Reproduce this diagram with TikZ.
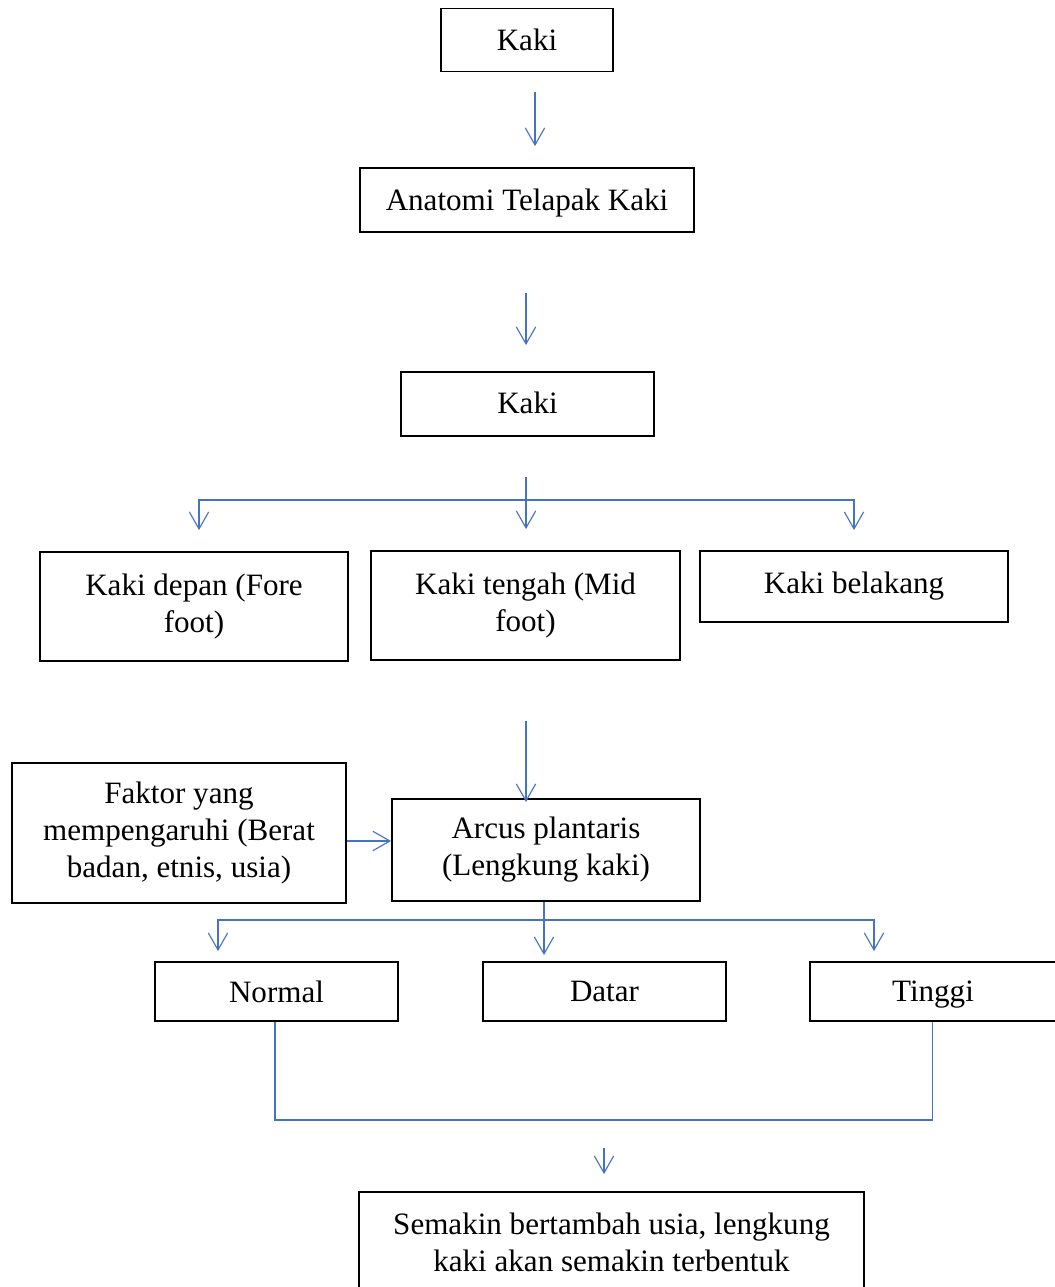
\documentclass[tikz,border=0pt]{standalone}
\usepackage{fontspec}
\setmainfont{Liberation Serif}
\usetikzlibrary{arrows.meta}
\newdimen\pxu
\pxu=0.75pt
\definecolor{linkblue}{HTML}{4472C4}
\begin{document}
\begin{tikzpicture}[x=0.75pt,y=-0.75pt,
  box/.style={draw=black,line width=1.4pt,rectangle,inner sep=0pt,align=center,
    font=\fontsize{23.3}{27.8}\selectfont},
  conn/.style={draw=linkblue,line width=0.85pt},
  arr/.style={conn,-{Straight Barb[length=12.75pt,width=14.5pt,line width=0.85pt]}}]
\useasboundingbox (0,0) rectangle (1054,1287);
\fill[white] (0,0) rectangle (1054,1287);

\node[box,minimum width=172\pxu,minimum height=63\pxu] (kaki1) at (527,40) {Kaki};
\node[box,minimum width=334\pxu,minimum height=64\pxu,text depth=0pt] (anatomi) at (527,200) {Anatomi Telapak Kaki};
\node[box,minimum width=253\pxu,minimum height=64\pxu] (kaki2) at (527.5,404) {\raisebox{2\pxu}{Kaki}};
\node[box,minimum width=308\pxu,minimum height=109\pxu] (depan) at (194,606.5) {\raisebox{2.5\pxu}{\begin{tabular}{@{}c@{}}Kaki depan (Fore\\foot)\end{tabular}}};
\node[box,minimum width=309\pxu,minimum height=109\pxu] (tengah) at (525.5,605.5) {\raisebox{2\pxu}{\begin{tabular}{@{}c@{}}Kaki tengah (Mid\\foot)\end{tabular}}};
\node[box,minimum width=308\pxu,minimum height=71\pxu] (belakang) at (854,586.5) {Kaki belakang};
\node[box,minimum width=334\pxu,minimum height=140\pxu] (faktor) at (179,833) {Faktor yang\\mempengaruhi (Berat\\badan, etnis, usia)};
\node[box,minimum width=308\pxu,minimum height=102\pxu] (arcus) at (546,850) {Arcus plantaris\\(Lengkung kaki)};
\node[box,minimum width=243\pxu,minimum height=59\pxu] (normal) at (276.5,991.5) {Normal};
\node[box,minimum width=243\pxu,minimum height=59\pxu] (datar) at (604.5,991.5) {Datar};
\node[box,minimum width=246\pxu,minimum height=59\pxu,text depth=0pt] (tinggi) at (933,991.5) {Tinggi};
\node[box,minimum width=505\pxu,minimum height=100\pxu] (semakin) at (611.5,1242) {Semakin bertambah usia, lengkung\\kaki akan semakin terbentuk};

% simple arrows
\draw[arr] ([xshift=8\pxu,yshift=-20\pxu]kaki1.south) -- ([xshift=8\pxu,yshift=21\pxu]anatomi.north);
\draw[arr] ([xshift=-1\pxu,yshift=-60\pxu]anatomi.south) -- ([xshift=-1.5\pxu,yshift=26\pxu]kaki2.north);

% branch 1
\coordinate (hub1) at (526,500);
\draw[arr] ([xshift=-1.5\pxu,yshift=-40\pxu]kaki2.south) -- ([xshift=0.5\pxu,yshift=21\pxu]tengah.north);
\draw[arr] (hub1) -| ([xshift=5\pxu,yshift=21\pxu]depan.north);
\draw[arr] (hub1) -| ([yshift=20\pxu]belakang.north);

% to arcus
\draw[arr] ([xshift=0.5\pxu,yshift=-60\pxu]tengah.south) -- ([xshift=-20\pxu,yshift=-4\pxu]arcus.north);
\draw[arr] ([yshift=-8\pxu]faktor.east) -- ([yshift=9\pxu]arcus.west);

% branch 2
\coordinate (hub2) at (544,920);
\draw[arr] ([xshift=-2\pxu]arcus.south) -- ([xshift=-60.5\pxu,yshift=6\pxu]datar.north);
\draw[arr] (hub2) -| ([xshift=-58.5\pxu,yshift=10\pxu]normal.north);
\draw[arr] (hub2) -| ([xshift=-59\pxu,yshift=10\pxu]tinggi.north);

% merge
\draw[conn] ([xshift=-1.5\pxu]normal.south) -- ++(0,98) -| ([xshift=-0.5\pxu]tinggi.south);
\draw[arr] ([xshift=-7.5\pxu,yshift=43\pxu]semakin.north) -- ([xshift=-7.5\pxu,yshift=17\pxu]semakin.north);
\end{tikzpicture}
\end{document}
